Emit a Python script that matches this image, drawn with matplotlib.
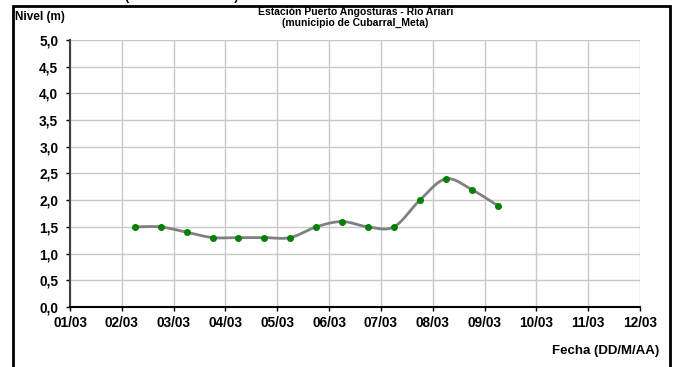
import numpy as np
import matplotlib.pyplot as plt
from matplotlib.patches import Rectangle

plt.rcParams['font.family'] = ['Liberation Sans', 'DejaVu Sans']
plt.rcParams['font.weight'] = 'bold'

# Datos: días desde 01/03 y nivel (m)
dias = [1.25, 1.75, 2.25, 2.75, 3.25, 3.75, 4.25, 4.75,
        5.25, 5.75, 6.25, 6.75, 7.25, 7.75, 8.25]
nivel = [1.5, 1.5, 1.4, 1.3, 1.3, 1.3, 1.3, 1.5,
         1.6, 1.5, 1.5, 2.0, 2.4, 2.2, 1.9]
etiquetas_x = ['01/03', '02/03', '03/03', '04/03', '05/03', '06/03',
               '07/03', '08/03', '09/03', '10/03', '11/03', '12/03']
etiquetas_y = ['0,0', '0,5', '1,0', '1,5', '2,0', '2,5',
               '3,0', '3,5', '4,0', '4,5', '5,0']


def suavizar(x, y, n=20):
    # curva tipo "línea suavizada" de Excel (Catmull-Rom)
    x = np.asarray(x, float)
    y = np.asarray(y, float)
    px = np.concatenate([[x[0]], x, [x[-1]]])
    py = np.concatenate([[y[0]], y, [y[-1]]])
    xs, ys = [], []
    t = np.linspace(0, 1, n)
    for i in range(1, len(px) - 2):
        p0, p1, p2, p3 = [np.array([px[j], py[j]]) for j in range(i - 1, i + 3)]
        c1 = p1 + (p2 - p0) / 6
        c2 = p2 - (p3 - p1) / 6
        for tt in t:
            b = ((1 - tt) ** 3 * p1 + 3 * (1 - tt) ** 2 * tt * c1
                 + 3 * (1 - tt) * tt ** 2 * c2 + tt ** 3 * p2)
            xs.append(b[0])
            ys.append(b[1])
    return xs, ys


fig = plt.figure(figsize=(6.74, 3.67), dpi=100)
ax = fig.add_axes([0.1039, 0.1635, 0.8457, 0.7275])

sx, sy = suavizar(dias, nivel)
ax.plot(sx, sy, color='#808080', linewidth=2, zorder=3)
ax.plot(dias, nivel, 'o', color='#008000', markersize=4, zorder=4)

ax.set_xlim(0, 11)
ax.set_ylim(0, 5)
ax.set_xticks(range(len(etiquetas_x)))
ax.set_xticklabels(etiquetas_x)
ax.set_yticks(np.arange(0, 5.01, 0.5))
ax.set_yticklabels(etiquetas_y)
ax.tick_params(labelsize=9.8, length=3, width=1)
ax.tick_params(axis='y', pad=5.5)
ax.tick_params(axis='x', pad=3.5)
ax.grid(True, color='#c8c8c8', linewidth=1)
ax.set_axisbelow(True)
for s in ['top', 'right']:
    ax.spines[s].set_visible(False)
ax.spines['left'].set_color('#404040')
ax.spines['left'].set_linewidth(1.5)
ax.spines['bottom'].set_color('black')
ax.spines['bottom'].set_linewidth(1.5)

# Textos
fig.text(0.527, 0.967, 'Estación Puerto Angosturas - Río Ariari',
         ha='center', va='center', fontsize=7.5, fontweight='bold')
fig.text(0.527, 0.937, '(municipio de Cubarral_Meta)',
         ha='center', va='center', fontsize=7.5, fontweight='bold')
fig.text(0.022, 0.953, 'Nivel (m)', ha='left', va='center',
         fontsize=8.5, fontweight='bold')
fig.text(0.978, 0.043, 'Fecha (DD/M/AA)', ha='right', va='center',
         fontsize=9.5, fontweight='bold')
fig.text(0.27, 0.992, '(                              )', ha='center',
         va='bottom', fontsize=9, fontweight='bold')

# Marco exterior
fig.add_artist(Rectangle((0.019, -0.05), 0.975, 1.035, transform=fig.transFigure,
                         fill=False, edgecolor='black', linewidth=2))

fig.savefig('out.png', dpi=100)
